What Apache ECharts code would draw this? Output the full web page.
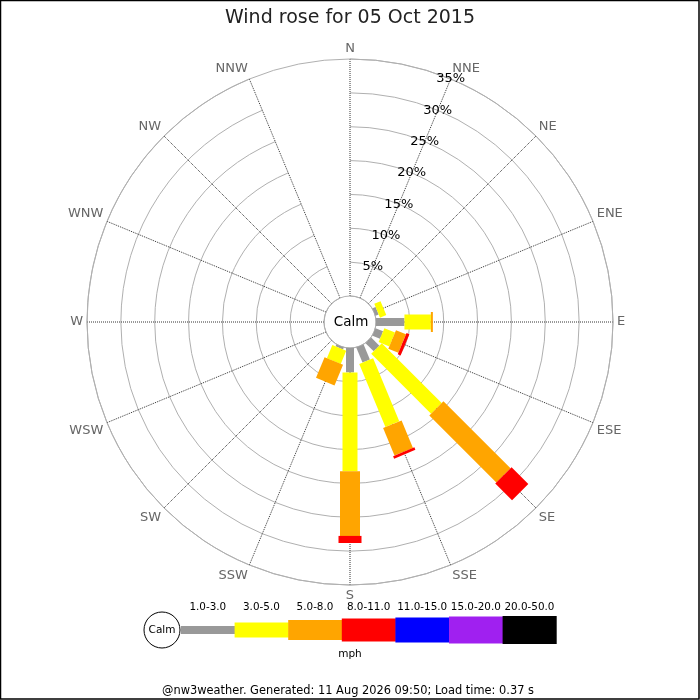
<!DOCTYPE html>
<html>
<head>
<meta charset="utf-8">
<script src="https://cdn.jsdelivr.net/npm/echarts@6/dist/echarts.min.js"></script>
<style>
  html, body { margin: 0; padding: 0; background: #fff; }
  #chart { width: 700px; height: 700px; }
</style>
</head>
<body>
<div id="chart"></div>
<script>
// ---- data ----
const directions = ['N','NNE','NE','ENE','E','ESE','SE','SSE','S','SSW','SW','WSW','W','WNW','NW','NNW'];
const speedClasses = ['1.0-3.0','3.0-5.0','5.0-8.0','8.0-11.0','11.0-15.0','15.0-20.0','20.0-50.0'];
// percent of time per direction, for each speed class (mph)
const speed1to3   = [0, 0, 0, 0.5, 4.2, 1.2, 1.7, 2.4, 3.6, 0.3, 0, 0, 0, 0, 0, 0];
const speed3to5   = [0, 0, 0, 1.0, 3.9, 1.7, 12.5, 10.1, 14.6, 2.1, 0, 0, 0, 0, 0, 0];
const speed5to8   = [0, 0, 0, 0, 0.3, 1.6, 14.0, 4.4, 9.55, 3.3, 0, 0, 0, 0, 0, 0];
const speed8to11  = [0, 0, 0, 0, 0, 0.45, 3.5, 0.4, 1.05, 0, 0, 0, 0, 0, 0, 0];
const speed11to15 = [0, 0, 0, 0, 0, 0, 0, 0, 0, 0, 0, 0, 0, 0, 0, 0];
const speed15to20 = [0, 0, 0, 0, 0, 0, 0, 0, 0, 0, 0, 0, 0, 0, 0, 0];
const speed20to50 = [0, 0, 0, 0, 0, 0, 0, 0, 0, 0, 0, 0, 0, 0, 0, 0];
const radiusTicks = [0, 5, 10, 15, 20, 25, 30, 35];
const unitLabel = 'mph';
const titleText = 'Wind rose for 05 Oct 2015';
const footerText = '@nw3weather. Generated: 11 Aug 2026 09:50; Load time: 0.37 s';

// ---- styles ----
const classColors = ['#999999','#ffff00','#ffa500','#ff0000','#0000ff','#a020f0','#000000'];
const classWidths = [8, 15, 20, 23, 25, 27, 28];
const FONT = 'DejaVu Sans';
const CX = 350, CY = 322, R0 = 26, R1 = 263;

const classSeriesValues = [speed1to3, speed3to5, speed5to8, speed8to11, speed11to15, speed15to20, speed20to50];
const rMax = radiusTicks[radiusTicks.length - 1];

// build stacked [dir, start, end] tables
const cumulative = directions.map(() => 0);
const series = classSeriesValues.map((vals, ci) => {
  const rows = [];
  vals.forEach((v, di) => {
    const s = cumulative[di];
    cumulative[di] = s + v;
    rows.push([directions[di], s, s + v]);
  });
  const w = classWidths[ci];
  const color = classColors[ci];
  return {
    type: 'custom',
    name: speedClasses[ci],
    coordinateSystem: 'polar',
    polarIndex: 0,
    encode: { angle: 0, radius: [1, 2] },
    data: rows,
    z: 3 + ci,
    silent: true,
    renderItem: function (params, api) {
      const ang = api.value(0);
      const a0 = api.value(1), a1 = api.value(2);
      if (!(a1 - a0 > 0)) return null;
      const p0 = api.coord([a0, ang]);
      const p1 = api.coord([a1, ang]);
      const q0 = api.coord([0, ang]);
      const q1 = api.coord([rMax, ang]);
      let dx = q1[0] - q0[0], dy = q1[1] - q0[1];
      const L = Math.hypot(dx, dy) || 1;
      dx /= L; dy /= L;
      const nx = -dy * w / 2, ny = dx * w / 2;
      return {
        type: 'polygon',
        shape: { points: [
          [p0[0] + nx, p0[1] + ny], [p1[0] + nx, p1[1] + ny],
          [p1[0] - nx, p1[1] - ny], [p0[0] - nx, p0[1] - ny]
        ] },
        style: { fill: color, stroke: null }
      };
    }
  };
});

// ---- legend graphics ----
const graphics = [];
const legX0 = 181, legW = 53.6, legCY = 630;
speedClasses.forEach((lab, i) => {
  const h = classWidths[i];
  graphics.push({
    type: 'rect',
    shape: { x: legX0 + i * legW, y: legCY - h / 2, width: legW + 0.5, height: h },
    style: { fill: classColors[i] }, silent: true
  });
  graphics.push({
    type: 'text', x: legX0 + i * legW + legW / 2, y: 607,
    style: { text: lab, fill: '#000', font: '10.4px "' + FONT + '"', textAlign: 'center', textVerticalAlign: 'middle' },
    silent: true
  });
});
graphics.push({
  type: 'circle', shape: { cx: 162, cy: legCY, r: 18 },
  style: { fill: '#fff', stroke: '#000', lineWidth: 1 }, silent: true
});
graphics.push({
  type: 'text', x: 162, y: legCY,
  style: { text: 'Calm', fill: '#000', font: '10.5px "' + FONT + '"', textAlign: 'center', textVerticalAlign: 'middle' },
  silent: true
});
graphics.push({
  type: 'text', x: 350, y: 654,
  style: { text: unitLabel, fill: '#000', font: '10.5px "' + FONT + '"', textAlign: 'center', textVerticalAlign: 'middle' },
  silent: true
});
graphics.push({
  type: 'text', x: 348, y: 691,
  style: { text: footerText, fill: '#000', font: '11.4px "' + FONT + '"', textAlign: 'center', textVerticalAlign: 'middle' },
  silent: true
});
graphics.push({
  type: 'text', x: 351, y: 322, z: 100,
  style: { text: 'Calm', fill: '#000', font: '13.5px "' + FONT + '"', textAlign: 'center', textVerticalAlign: 'middle' },
  silent: true
});
graphics.push({
  type: 'rect', shape: { x: 0.5, y: 0.5, width: 698.5, height: 698.5 },
  style: { fill: null, stroke: '#000', lineWidth: 1.5 }, silent: true
});

const chart = echarts.init(document.getElementById('chart'), null, { renderer: 'canvas' });
chart.setOption({
  animation: false,
  backgroundColor: '#fff',
  textStyle: { fontFamily: FONT },
  title: {
    text: titleText, left: 'center', top: 4,
    textStyle: { fontSize: 19, fontWeight: 'normal', color: '#222', fontFamily: FONT }
  },
  polar: [
    { center: [CX, CY], radius: [R0, R1] },
    { center: [CX, CY], radius: [R0, R1] }
  ],
  angleAxis: [
    {
      polarIndex: 0, type: 'category', data: directions, boundaryGap: false,
      startAngle: 90, clockwise: true,
      axisLine: { show: true, lineStyle: { color: '#b0b0b0', width: 1 } },
      axisTick: { show: false },
      axisLabel: { color: '#666', fontSize: 13, margin: 4, fontFamily: FONT },
      splitLine: { show: true, lineStyle: { color: '#333', type: 'dotted', width: 1 } },
      z: 1
    },
    {
      polarIndex: 1, type: 'value', min: 0, max: 360, startAngle: 67.5, show: false
    }
  ],
  radiusAxis: [
    {
      polarIndex: 0, type: 'value', min: radiusTicks[0], max: rMax, interval: radiusTicks[1] - radiusTicks[0],
      axisLine: { show: false }, axisTick: { show: false }, axisLabel: { show: false },
      splitLine: { show: true, lineStyle: { color: '#b0b0b0', width: 1, type: 'solid' } },
      z: 0
    },
    {
      polarIndex: 1, type: 'value', min: radiusTicks[0], max: rMax, interval: radiusTicks[1] - radiusTicks[0],
      axisLine: { show: false }, axisTick: { show: false }, splitLine: { show: false },
      axisLabel: {
        show: true, margin: 0, align: 'center', verticalAlign: 'middle',
        color: '#000', fontSize: 13, fontFamily: FONT,
        formatter: function (v) { return v === 0 ? '' : v + '%'; }
      },
      z: 20
    }
  ],
  series: series,
  graphic: { elements: graphics }
});
</script>
</body>
</html>
